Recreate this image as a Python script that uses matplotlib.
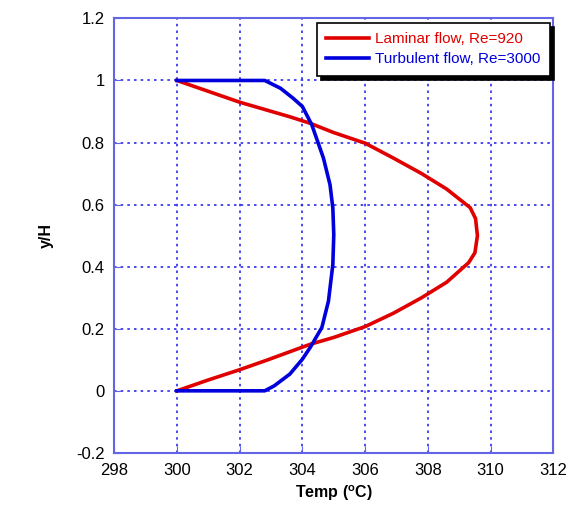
import numpy as np
import matplotlib.pyplot as plt

plt.rcParams['font.family'] = ['Liberation Sans', 'DejaVu Sans']
plt.rcParams['mathtext.default'] = 'regular'

# Perfil laminar (Re=920)
lam_y = [0.0, 0.035, 0.068, 0.1, 0.126, 0.15, 0.172, 0.207, 0.25, 0.30, 0.35,
         0.413, 0.445, 0.5, 0.555, 0.59, 0.65, 0.70, 0.75, 0.798, 0.832,
         0.862, 0.883, 0.93, 0.965, 1.0]
lam_T = [300.0, 301.0, 302.0, 302.9, 303.6, 304.25, 305.0, 306.0, 306.9, 307.8, 308.6,
         309.3, 309.5, 309.58, 309.52, 309.35, 308.6, 307.8, 306.9, 306.0, 305.0,
         304.25, 303.6, 302.0, 301.0, 300.0]

# Perfil turbulento (Re=3000)
tur_y = [0.0, 0.0, 0.016, 0.054, 0.102, 0.14, 0.204, 0.289, 0.407, 0.503,
         0.589, 0.664, 0.75, 0.857, 0.916, 0.943, 0.975, 1.0, 1.0]
tur_T = [300.0, 302.8, 303.1, 303.6, 304.0, 304.25, 304.62, 304.83, 304.97, 305.0,
         304.97, 304.88, 304.67, 304.3, 304.0, 303.7, 303.3, 302.8, 300.0]

xticks = [298, 300, 302, 304, 306, 308, 310, 312]
yticks = [-0.2, 0, 0.2, 0.4, 0.6, 0.8, 1, 1.2]
ytick_labels = ['-0.2', '0', '0.2', '0.4', '0.6', '0.8', '1', '1.2']

fig = plt.figure(figsize=(5.74, 5.26), dpi=100)
ax = fig.add_axes([0.199, 0.139, 0.765, 0.826])

ax.plot(lam_T, lam_y, color='#e00000', lw=2.6, label='Laminar flow, Re=920')
ax.plot(tur_T, tur_y, color='#0000dd', lw=2.6, label='Turbulent flow, Re=3000')

ax.set_xlim(298, 312)
ax.set_ylim(-0.2, 1.2)
ax.set_xticks(xticks)
ax.set_yticks(yticks)
ax.set_yticklabels(ytick_labels)
ax.grid(True, color='#2a2aee', linestyle=(0, (1.5, 2.5)), linewidth=1.2)
for s in ax.spines.values():
    s.set_color('#6464e6')
    s.set_linewidth(1.5)
ax.tick_params(direction='in', length=5, color='#6464e6', labelsize=12, pad=7)

ax.set_xlabel('Temp ($^{o}$C)', fontsize=11.5, fontweight='bold', labelpad=4)
ax.set_ylabel('y/H', fontsize=11.5, fontweight='bold', labelpad=16)

leg = ax.legend(loc='upper right', bbox_to_anchor=(0.992, 0.989), borderaxespad=0,
                fancybox=False, edgecolor='black', framealpha=1, fontsize=11,
                handlelength=2.8, handletextpad=0.4, borderpad=0.6, labelspacing=0.4,
                shadow={'color': 'black', 'alpha': 1, 'ox': 3, 'oy': -3})
leg.get_frame().set_linewidth(1.2)
for txt, c in zip(leg.get_texts(), ['#e00000', '#0000dd']):
    txt.set_color(c)

fig.savefig('out.png', dpi=100)
